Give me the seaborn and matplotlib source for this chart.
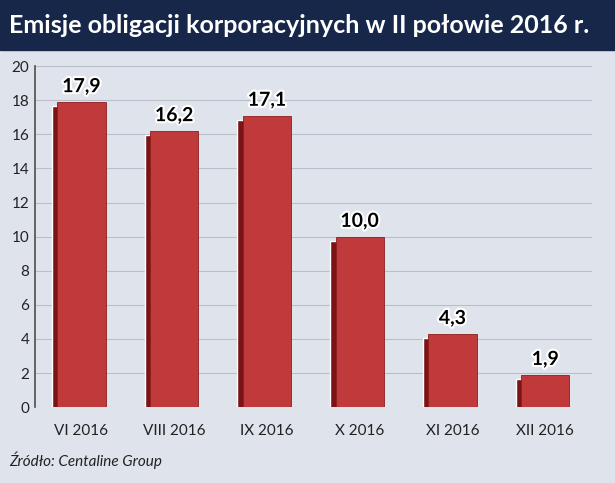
import matplotlib
matplotlib.use("Agg")
import matplotlib.pyplot as plt
import matplotlib.patheffects as pe
import matplotlib.transforms as mtrans
import seaborn as sns
import pandas as pd

months = ["VI 2016", "VIII 2016", "IX 2016", "X 2016", "XI 2016", "XII 2016"]
values = [17.9, 16.2, 17.1, 10.0, 4.3, 1.9]
labels = ["17,9", "16,2", "17,1", "10,0", "4,3", "1,9"]

df = pd.DataFrame({"month": months, "value": values})

sns.set_theme(style="white")
plt.rcParams["font.family"] = ["Lato", "DejaVu Sans"]

fig = plt.figure(figsize=(6.15, 4.83), dpi=100)
fig.patch.set_facecolor("#dfe4ec")
ax = fig.add_axes([0.057, 0.157, 0.905, 0.706])
ax.set_facecolor("none")

# dark side of the bars, shifted left/down
sns.barplot(data=df, x="month", y="value", color="#7a1416", saturation=1,
            width=0.52, ax=ax, zorder=2)
n = len(ax.patches)
shift = mtrans.offset_copy(ax.transData, fig=fig, x=-4, y=-3, units="points")
for p in ax.patches[:n]:
    p.set_transform(shift)
# front face
sns.barplot(data=df, x="month", y="value", color="#c0393b", saturation=1,
            width=0.52, ax=ax, zorder=3)
for p in ax.patches[n:]:
    p.set_edgecolor("#8e1e20")
    p.set_linewidth(0.6)

for i, (v, t) in enumerate(zip(values, labels)):
    ax.text(i, v + 0.4, t, ha="center", va="bottom", fontsize=14,
            fontweight="bold", color="black", zorder=5,
            path_effects=[pe.withStroke(linewidth=3, foreground="white")])

ax.set_ylim(0, 20)
ax.set_yticks(range(0, 21, 2))
ax.set_xlim(-0.5, len(months) - 0.5)
ax.yaxis.grid(True, color="#b9bec8", linewidth=0.8, zorder=0)
ax.set_axisbelow(True)
for s in ["top", "right", "bottom"]:
    ax.spines[s].set_visible(False)
ax.spines["left"].set_color("#555555")
ax.set_xlabel("")
ax.set_ylabel("")
ax.tick_params(axis="both", labelsize=11, colors="#222222", length=0, pad=4)
ax.tick_params(axis="x", pad=12)

# title bar
fig.patches.append(plt.Rectangle((0, 0.897), 1, 0.103, transform=fig.transFigure,
                                 color="#17274a", zorder=0))
fig.text(0.015, 0.948, "Emisje obligacji korporacyjnych w II połowie 2016 r.",
         color="white", fontsize=18, fontweight="bold", va="center")
fig.text(0.015, 0.035, "Źródło: Centaline Group", fontsize=11, style="italic",
         color="#222222")

fig.savefig("out.png", dpi=100, facecolor=fig.get_facecolor())
